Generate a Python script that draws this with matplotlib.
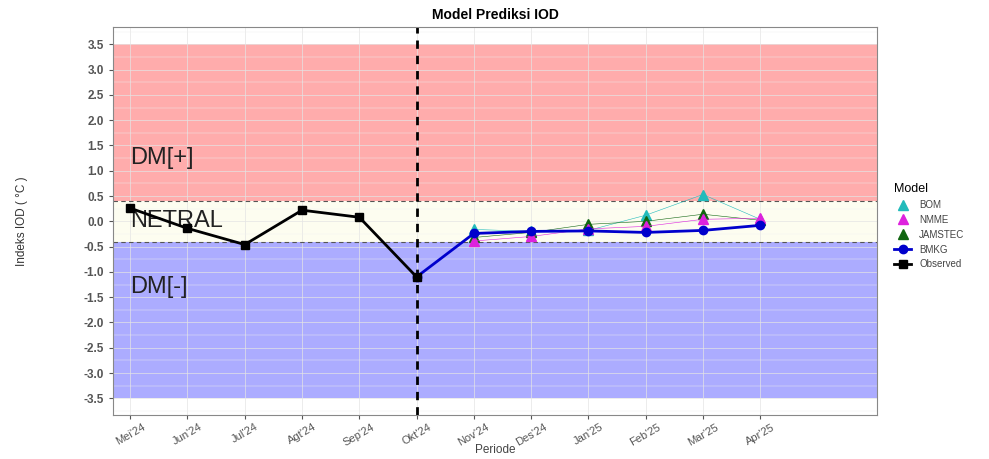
import matplotlib.pyplot as plt
from matplotlib.lines import Line2D

plt.rcParams['font.family'] = ['Liberation Sans', 'DejaVu Sans']

# data
periods = ["Mei'24", "Jun'24", "Jul'24", "Agt'24", "Sep'24", "Okt'24",
           "Nov'24", "Des'24", "Jan'25", "Feb'25", "Mar'25", "Apr'25"]
observed = [0.26, -0.14, -0.46, 0.22, 0.08, -1.10]
bmkg = [-1.10, -0.24, -0.20, -0.19, -0.22, -0.18, -0.08]
bom = [-0.16, -0.20, -0.18, 0.12, 0.53, 0.04]
nmme = [-0.39, -0.30, -0.15, -0.10, 0.04, 0.06]
jamstec = [-0.32, -0.22, -0.06, 0.00, 0.14, 0.02]

x = list(range(len(periods)))
x_obs = x[:6]
x_bmkg = x[5:]
x_mod = x[6:]

fig = plt.figure(figsize=(9.89, 4.59), dpi=100)
ax = fig.add_axes([0.1143, 0.0959, 0.7725, 0.845])

# background bands
ax.axhspan(0.4, 3.5, color='#ffaaaa', alpha=0.97, lw=0, zorder=0.5)
ax.axhspan(-0.4, 0.4, color='#fdfdf0', alpha=0.95, lw=0, zorder=0.5)
ax.axhspan(-3.5, -0.4, color='#aaaaff', alpha=0.97, lw=0, zorder=0.5)
ax.axhline(0.4, color='#555555', ls=(0, (4, 3)), lw=0.8, zorder=1)
ax.axhline(-0.4, color='#555555', ls=(0, (4, 3)), lw=0.8, zorder=1)
ax.axvline(5, color='black', ls=(0, (3, 2.5)), lw=2, zorder=2)

ax.text(0, 1.25, "DM[+]", fontsize=17, color='#222222', va='center')
ax.text(0, 0.0, "NETRAL", fontsize=17, color='#222222', va='center')
ax.text(0, -1.3, "DM[-]", fontsize=17, color='#222222', va='center')

# model lines
ax.plot(x_mod, bom, color='#22bbbb', lw=0.4, marker='^', ms=7, zorder=3)
ax.plot(x_mod, jamstec, color='#116611', lw=0.4, marker='^', ms=7, zorder=3)
ax.plot(x_mod, nmme, color='#dd22dd', lw=0.4, marker='^', ms=7, zorder=3)
ax.plot(x_bmkg, bmkg, color='#0000cc', lw=2, marker='o', ms=6, zorder=4)
ax.plot(x_obs, observed, color='black', lw=2, marker='s', ms=6, zorder=5)

yt = [-3.5 + 0.5 * i for i in range(15)]
ax.set_yticks(yt)
ax.set_yticklabels(["%.1f" % v for v in yt], fontsize=8.5, color='#555555', fontweight='bold')
ax.set_xticks(x)
ax.set_xticklabels(periods, rotation=30, fontsize=8, color='#555555')
ax.tick_params(length=3, color='#555555')
ax.tick_params(axis='x', pad=2)
ax.set_yticks([-3.75 + 0.5 * i for i in range(16)], minor=True)
ax.tick_params(which='minor', length=0)
ax.grid(True, which='major', color='#e4e4e4', lw=0.5)
ax.grid(True, which='minor', axis='y', color='#f0f0f0', lw=0.3)
ax.set_axisbelow(True)
ax.set_xlim(-0.3, 13.04)
ax.set_ylim(-3.83, 3.84)
for s in ax.spines.values():
    s.set_color('#888888')

ax.set_xlabel("Periode", fontsize=8.5, color='#444444', labelpad=-3)
ax.set_ylabel("Indeks IOD ( °C )", fontsize=8.5, color='#333333', labelpad=40)
ax.set_title("Model Prediksi IOD", fontsize=10, fontweight='bold', pad=6)

handles = [
    Line2D([], [], color='#22bbbb', marker='^', ls='', ms=7),
    Line2D([], [], color='#dd22dd', marker='^', ls='', ms=7),
    Line2D([], [], color='#116611', marker='^', ls='', ms=7),
    Line2D([], [], color='#0000cc', marker='o', lw=2, ms=6),
    Line2D([], [], color='black', marker='s', lw=2, ms=6),
]
leg = fig.legend(handles, ["BOM", "NMME", "JAMSTEC", "BMKG", "Observed"],
                 title="Model", loc='upper left', bbox_to_anchor=(0.895, 0.62),
                 frameon=False, fontsize=7, title_fontsize=9, handlelength=1.8,
                 labelspacing=0.5, labelcolor='#444444')
leg._legend_box.align = 'left'

fig.savefig("out.png", dpi=100)
